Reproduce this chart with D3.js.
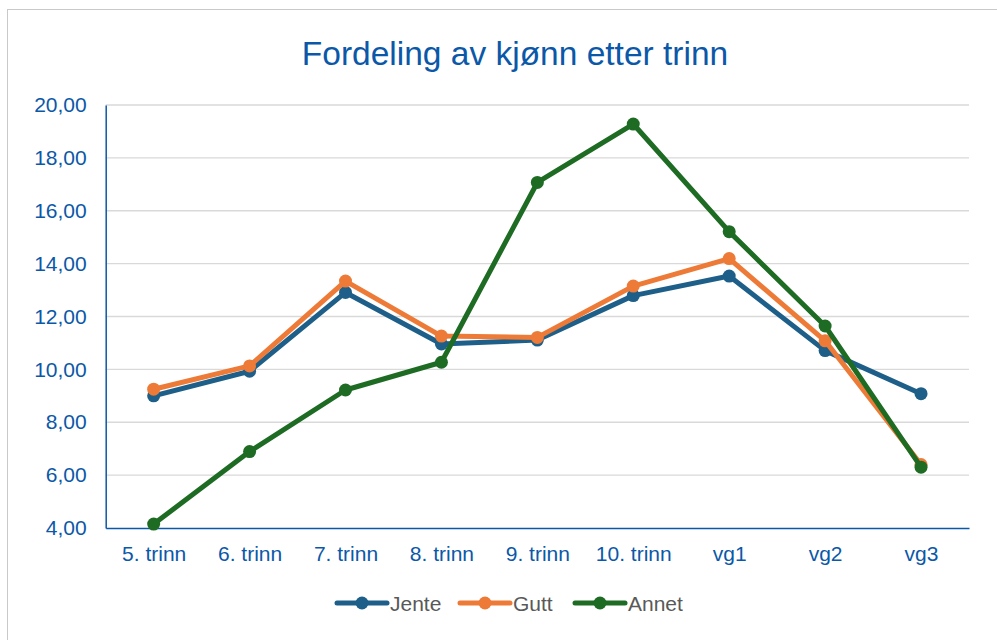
<!DOCTYPE html>
<html lang="no">
<head>
<meta charset="UTF-8">
<title>Fordeling av kjønn etter trinn</title>
<script src="https://d3js.org/d3.v7.min.js"></script>
<style>
    body { margin: 0; background: #fff; }
    text { font-family: "Liberation Sans", Arial, sans-serif; }
</style>
</head>
<body>
<div id="chart"></div>
<script>
    // data
    const categories = ["5. trinn", "6. trinn", "7. trinn", "8. trinn", "9. trinn", "10. trinn", "vg1", "vg2", "vg3"];
    const jente = [9.00, 9.93, 12.91, 10.96, 11.11, 12.79, 13.53, 10.71, 9.08];
    const gutt  = [9.25, 10.13, 13.34, 11.26, 11.21, 13.15, 14.19, 11.08, 6.40];
    const annet = [4.15, 6.89, 9.22, 10.27, 17.07, 19.28, 15.21, 11.64, 6.30];
    const yTicks = [4, 6, 8, 10, 12, 14, 16, 18, 20];

    const series = [
        { name: "Jente", values: jente, color: "#1d5f88" },
        { name: "Gutt", values: gutt, color: "#ed7a36" },
        { name: "Annet", values: annet, color: "#1e6b23" }
    ];

    const W = 997, H = 640;
    const blue = "#0b58a8";
    const fmt = v => d3.format(".2f")(v).replace(".", ",");

    const svg = d3.select("#chart").append("svg")
        .attr("width", W)
        .attr("height", H);

    // outer frame
    svg.append("rect")
        .attr("x", 7.5).attr("y", 9.5)
        .attr("width", W).attr("height", H)
        .attr("fill", "none")
        .attr("stroke", "#c9c9c9")
        .attr("stroke-width", 1);

    const plotL = 105.7, plotR = 969, plotT = 105, plotB = 528;

    const x = d3.scalePoint().domain(categories).range([plotL, plotR]).padding(0.5);
    const y = d3.scaleLinear().domain([4, 20]).range([plotB, plotT]);

    // title
    svg.append("text")
        .attr("x", 515).attr("y", 65)
        .attr("text-anchor", "middle")
        .attr("fill", blue)
        .style("font-size", "33.5px")
        .text("Fordeling av kjønn etter trinn");

    // gridlines
    svg.append("g").selectAll("line")
        .data(yTicks.filter(t => t > 4))
        .enter().append("line")
        .attr("x1", plotL).attr("x2", plotR)
        .attr("y1", d => y(d)).attr("y2", d => y(d))
        .attr("stroke", "#d9d9d9")
        .attr("stroke-width", 1.3);

    // y axis
    const yAxis = svg.append("g")
        .attr("transform", `translate(${plotL},0)`)
        .call(d3.axisLeft(y).tickValues(yTicks).tickFormat(fmt).tickSize(0).tickPadding(19));
    yAxis.select(".domain").attr("stroke", blue).attr("stroke-width", 1.5);
    yAxis.selectAll("text")
        .attr("fill", blue)
        .style("font-size", "21px")
        .style("font-family", "'Liberation Sans', Arial, sans-serif");

    // x axis
    const xAxis = svg.append("g")
        .attr("transform", `translate(0,${plotB})`)
        .call(d3.axisBottom(x).tickSize(0).tickPadding(18));
    xAxis.select(".domain").attr("stroke", blue).attr("stroke-width", 1.5);
    xAxis.selectAll("text")
        .attr("fill", blue)
        .style("font-size", "21px")
        .style("font-family", "'Liberation Sans', Arial, sans-serif");

    // lines and markers
    const line = d3.line()
        .x((d, i) => x(categories[i]))
        .y(d => y(d));

    series.forEach(s => {
        const g = svg.append("g");
        g.append("path")
            .datum(s.values)
            .attr("d", line)
            .attr("fill", "none")
            .attr("stroke", s.color)
            .attr("stroke-width", 5)
            .attr("stroke-linejoin", "round");
        g.selectAll("circle")
            .data(s.values)
            .enter().append("circle")
            .attr("cx", (d, i) => x(categories[i]))
            .attr("cy", d => y(d))
            .attr("r", 6.5)
            .attr("fill", s.color);
    });

    // legend
    const legendX = [337, 460, 575];
    const legend = svg.append("g").selectAll("g")
        .data(series)
        .enter().append("g")
        .attr("transform", (d, i) => `translate(${legendX[i]},603)`);
    legend.append("line")
        .attr("x1", 0).attr("x2", 50)
        .attr("stroke", d => d.color)
        .attr("stroke-width", 5)
        .attr("stroke-linecap", "round");
    legend.append("circle")
        .attr("cx", 25).attr("r", 6.5)
        .attr("fill", d => d.color);
    legend.append("text")
        .attr("x", 53).attr("y", 7.5)
        .attr("fill", "#595959")
        .style("font-size", "21px")
        .text(d => d.name);
</script>
</body>
</html>
